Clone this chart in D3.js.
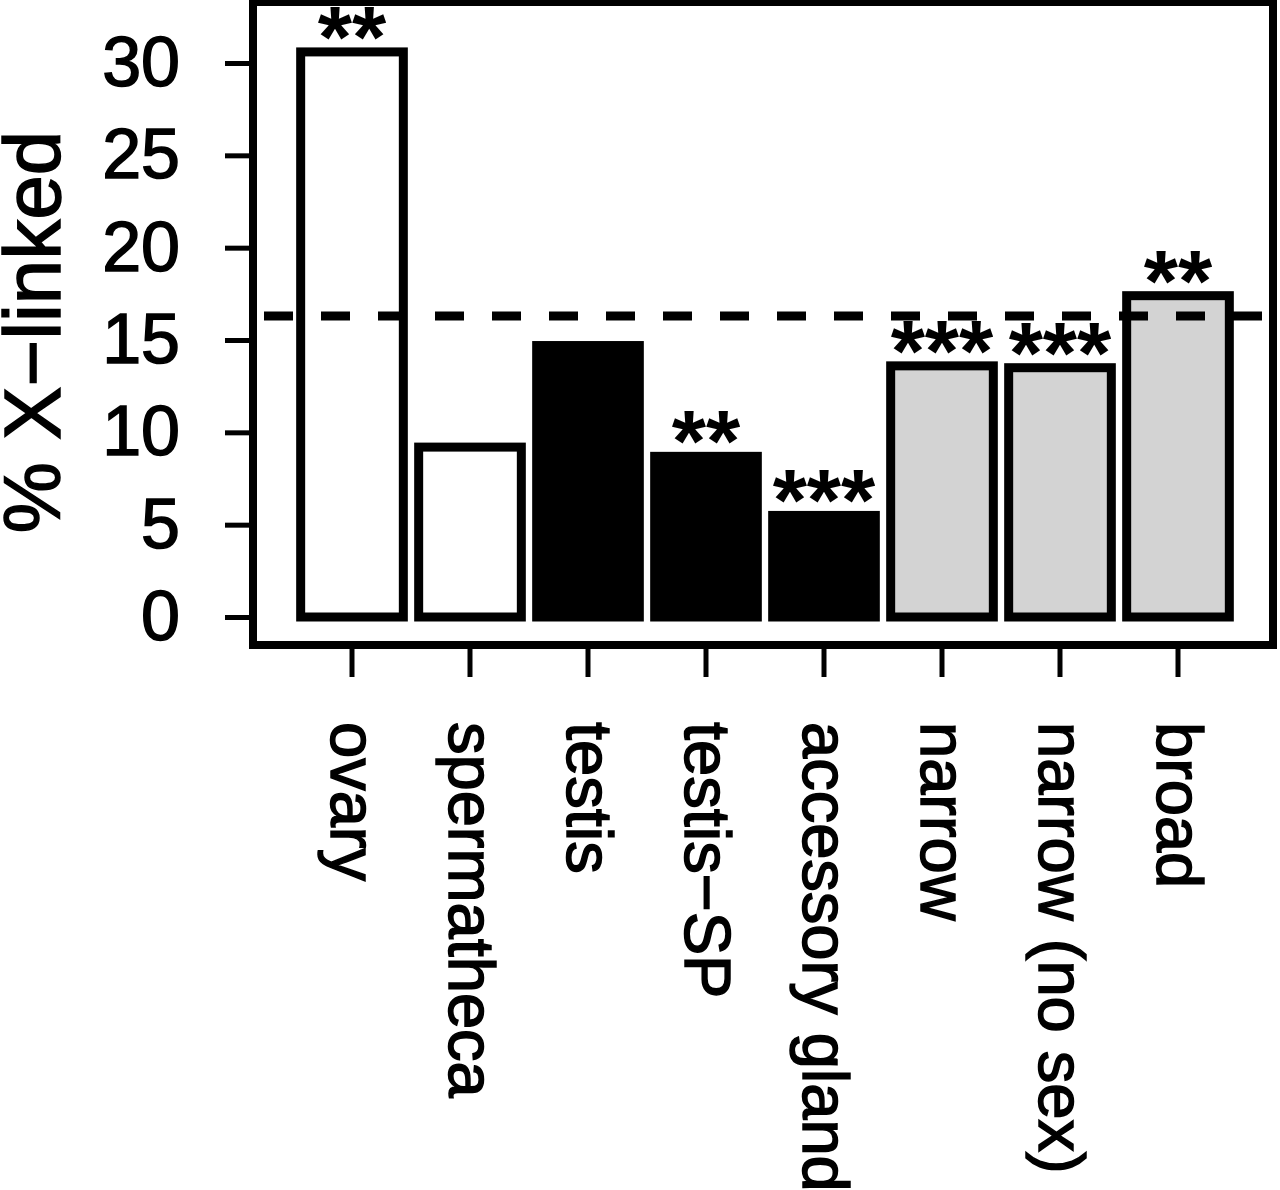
<!DOCTYPE html>
<html>
<head>
<meta charset="utf-8">
<script src="https://cdn.jsdelivr.net/npm/d3@7"></script>
<style>
    body { margin: 0; background: #fff; }
    svg { display: block; }
</style>
</head>
<body>
<div id="chart"></div>
<script>
// % X-linked genes per tissue / expression class

const categories = ['ovary', 'spermatheca', 'testis', 'testis\u2212SP', 'accessory gland', 'narrow', 'narrow (no sex)', 'broad'];
const values = [30.6, 9.2, 14.7, 8.7, 5.5, 13.6, 13.5, 17.4];
const groups = ['female', 'female', 'male', 'male', 'male', 'all', 'all', 'all'];
const stars = ['**', '', '', '**', '***', '***', '***', '**'];
const expected = 16.3; // genome-wide X share (dashed line)
const yTicks = [0, 5, 10, 15, 20, 25, 30];

const FILLS = { female: '#ffffff', male: '#000000', all: '#d3d3d3' };
const FONT = '"Liberation Sans", Arial, Helvetica, sans-serif';

const XLinkedChart = {
    render() {
        const W = 1280, H = 1190;
        const box = { left: 253, right: 1273, top: 2, bottom: 645 };

        const svg = d3.select('#chart')
            .append('svg')
            .attr('width', W)
            .attr('height', H)
            .style('font-family', FONT);

        // Scales
        const x = d3.scaleBand()
            .domain(categories)
            .range([293, 1237])
            .paddingInner(0.13)
            .paddingOuter(0.065);

        const y = d3.scaleLinear()
            .domain([0, 30])
            .range([617, 63]);

        // Bars
        svg.append('g')
            .selectAll('rect')
            .data(categories)
            .join('rect')
            .attr('x', d => x(d))
            .attr('y', (d, i) => y(values[i]))
            .attr('width', x.bandwidth())
            .attr('height', (d, i) => y(0) - y(values[i]))
            .attr('fill', (d, i) => FILLS[groups[i]])
            .attr('stroke', '#000')
            .attr('stroke-width', 9);

        // Expected share
        svg.append('line')
            .attr('x1', 264)
            .attr('x2', box.right)
            .attr('y1', y(expected))
            .attr('y2', y(expected))
            .attr('stroke', '#000')
            .attr('stroke-width', 9)
            .attr('stroke-dasharray', '29,28');

        // Significance stars
        svg.append('g')
            .selectAll('text')
            .data(categories)
            .join('text')
            .attr('x', d => x(d) + x.bandwidth() / 2)
            .attr('y', (d, i) => y(values[i]))
            .attr('dy', '0.17em')
            .attr('text-anchor', 'middle')
            .attr('font-size', '88px')
            .attr('font-weight', 'bold')
            .text((d, i) => stars[i]);

        // Plot box
        svg.append('rect')
            .attr('x', box.left)
            .attr('y', box.top)
            .attr('width', box.right - box.left)
            .attr('height', box.bottom - box.top)
            .attr('fill', 'none')
            .attr('stroke', '#000')
            .attr('stroke-width', 8);

        // Y axis
        const yAxis = svg.append('g')
            .attr('transform', `translate(${box.left},0)`)
            .call(d3.axisLeft(y).tickValues(yTicks).tickSize(28).tickPadding(45));
        yAxis.select('.domain').remove();
        yAxis.selectAll('line').attr('stroke-width', 5);
        yAxis.selectAll('text')
            .attr('font-size', '70px')
            .attr('font-family', FONT)
            .attr('fill', '#000')
            .attr('stroke', '#000')
            .attr('stroke-width', 1.5);

        // X axis ticks
        const xAxis = svg.append('g')
            .attr('transform', `translate(0,${box.bottom})`)
            .call(d3.axisBottom(x).tickSize(32).tickFormat(''));
        xAxis.select('.domain').remove();
        xAxis.selectAll('line').attr('stroke-width', 5);

        // X labels, reading downwards
        svg.append('g')
            .selectAll('text')
            .data(categories)
            .join('text')
            .attr('transform', d => `translate(${x(d) + x.bandwidth() / 2},722) rotate(90)`)
            .attr('dy', '0.32em')
            .attr('font-size', '65px')
            .attr('stroke', '#000')
            .attr('stroke-width', 1.5)
            .text(d => d);

        // Y label
        svg.append('text')
            .attr('transform', 'rotate(-90)')
            .attr('x', -332)
            .attr('y', 60)
            .attr('text-anchor', 'middle')
            .attr('font-size', '80px')
            .attr('stroke', '#000')
            .attr('stroke-width', 1.5)
            .text('% X\u2212linked');
    }
};

XLinkedChart.render();
</script>
</body>
</html>
